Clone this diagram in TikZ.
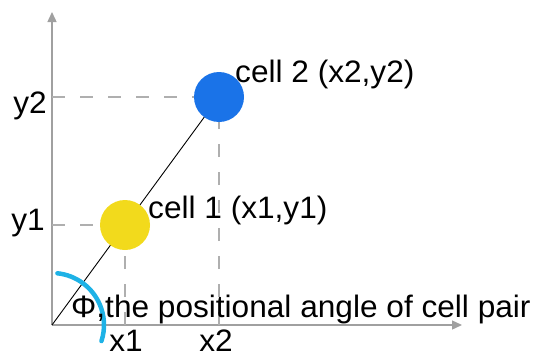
\documentclass[tikz,border=0pt]{standalone}
\usepackage{fontspec}
\setmainfont{Liberation Sans}[FakeStretch=1.02]
\usetikzlibrary{arrows.meta}
\definecolor{axisgray}{RGB}{160,160,160}
\definecolor{dashgray}{RGB}{175,175,175}
\definecolor{cellblue}{RGB}{26,115,232}
\definecolor{cellyellow}{RGB}{242,218,28}
\definecolor{anglecyan}{RGB}{30,178,230}
\begin{document}
\begin{tikzpicture}[x=1pt,y=1pt,yscale=-1,xscale=1,
    axis/.style={draw=axisgray,line width=1.4pt,-{Triangle[length=10pt,width=9pt]}},
    guide/.style={draw=dashgray,line width=1.3pt,dash pattern=on 13pt off 15pt},
    cell/.style={circle,inner sep=0pt,minimum size=50pt},
    lbl/.style={inner sep=0pt,font=\fontsize{31}{35}\selectfont}]
        \useasboundingbox (0,0) rectangle (551,356);

        % points
        \coordinate (O) at (52,325);
        \coordinate (p1) at (125,225);
        \coordinate (p2) at (219,97);
        \coordinate (ytop) at (52,12);
        \coordinate (xend) at (462,325);
        \coordinate (ay1) at (52,225);
        \coordinate (ay2) at (52,97);
        \coordinate (ax1) at (125,325);
        \coordinate (ax2) at (219,325);

        % axes
        \draw[axis] (O) -- (ytop);
        \draw[axis] (O) -- (xend);

        % dashed guides
        \draw[guide] (ay2) -- (p2);
        \draw[guide] (ay1) -- (p1);
        \draw[guide] (ax1) -- (p1);
        \draw[guide] (ax2) -- (p2);

        % line of the pair
        \draw[line width=0.9pt] (O) -- (p2);

        %Shape: Circle
        \node[cell,fill=cellyellow] (cell1) at (p1) {};
        %Shape: Circle
        \node[cell,fill=cellblue] (cell2) at (p2) {};

        %Shape: Arc
        \draw[anglecyan,line width=4.5pt,line cap=round] (O) ++(-84:52) arc[start angle=-84,end angle=18,radius=52];

        % Text Node
        \node[lbl,anchor=base west] (t2) at (235,82) {cell 2 (x2,y2)};
        % Text Node
        \node[lbl,anchor=base west] (t1) at (148,218) {cell 1 (x1,y1)};
        % Text Node
        \node[lbl,anchor=base west] (tphi) at (71,317) {Φ,the positional angle of cell pair};
        % Text Node
        \node[lbl,anchor=base east] (ly2) at (47,113) {y2};
        % Text Node
        \node[lbl,anchor=base east] (ly1) at (45,230) {y1};
        % Text Node
        \node[lbl,anchor=base] (lx1) at (126,351) {x1};
        % Text Node
        \node[lbl,anchor=base] (lx2) at (216,351) {x2};
\end{tikzpicture}
\end{document}
